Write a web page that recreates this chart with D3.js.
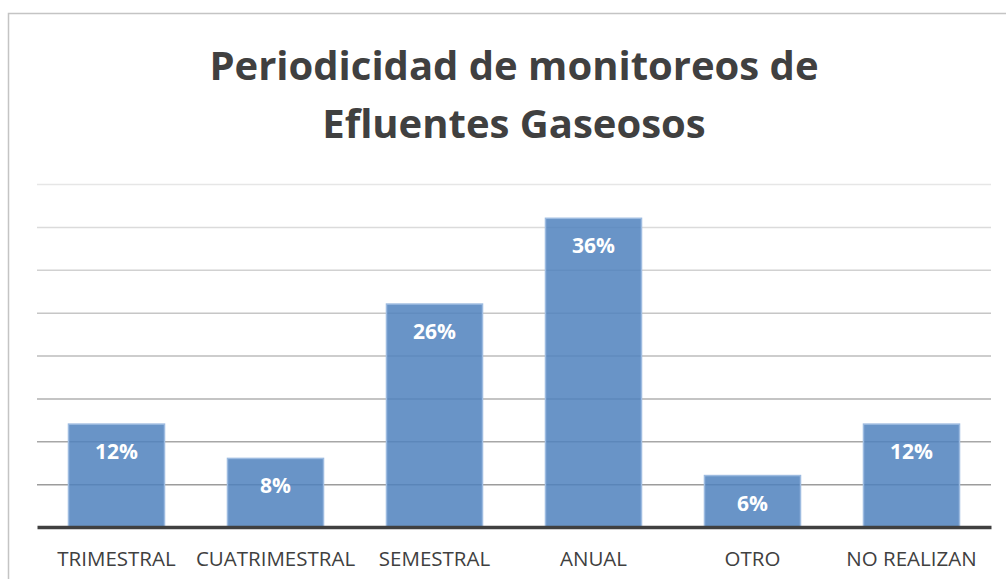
<!DOCTYPE html>
<html lang="es">
<head>
<meta charset="utf-8">
<title>Periodicidad de monitoreos de Efluentes Gaseosos</title>
<script src="https://d3js.org/d3.v7.min.js"></script>
<style>
  html, body { margin: 0; padding: 0; background: #fff; }
  svg { display: block; }
  .title { font-family: "Open Sans", sans-serif; font-weight: 700; fill: #404040; }
  .cat { font-family: "Open Sans", sans-serif; fill: #404040; }
  .lbl { font-family: "Open Sans", sans-serif; font-weight: 700; fill: #fff; }
</style>
</head>
<body>
<div id="chart"></div>
<script>
  // data
  const categories = ["TRIMESTRAL", "CUATRIMESTRAL", "SEMESTRAL", "ANUAL", "OTRO", "NO REALIZAN"];
  const values = [12, 8, 26, 36, 6, 12];
  const gridTicks = [5, 10, 15, 20, 25, 30, 35, 40];
  const titleLines = ["Periodicidad de monitoreos de", "Efluentes Gaseosos"];

  const W = 1006, H = 579;
  const margin = {top: 184, right: 15, bottom: 52, left: 37};

  const svg = d3.select("#chart").append("svg")
      .attr("width", W)
      .attr("height", H);

  // outer chart frame (runs off right/bottom edge)
  svg.append("rect")
      .attr("x", 8.5).attr("y", 13.5)
      .attr("width", W + 20).attr("height", H + 20)
      .attr("fill", "none")
      .attr("stroke", "#c4c4c4")
      .attr("stroke-width", 1.5);

  const x = d3.scaleBand()
      .domain(categories)
      .range([margin.left, W - margin.right])
      .paddingInner(0.396)
      .paddingOuter(0.198);

  const y = d3.scaleLinear()
      .domain([0, 40])
      .range([H - margin.bottom, margin.top]);

  // gridlines, lighter towards the top
  const gridColor = d3.scaleLinear()
      .domain([5, 40])
      .range(["#9c9c9c", "#e6e6e6"]);

  const grid = svg.append("g")
      .attr("transform", "translate(" + margin.left + ",0)")
      .call(d3.axisLeft(y)
          .tickValues(gridTicks)
          .tickSize(-(W - margin.right - margin.left))
          .tickFormat(""));
  grid.select(".domain").remove();
  grid.selectAll(".tick line")
      .attr("stroke", d => gridColor(d))
      .attr("stroke-width", 1.5);

  // bars
  svg.append("g").selectAll("rect")
      .data(values)
      .join("rect")
      .attr("x", (d, i) => x(categories[i]))
      .attr("y", d => y(d))
      .attr("width", x.bandwidth())
      .attr("height", d => y(0) - y(d))
      .attr("fill", "#4f81bd")
      .attr("fill-opacity", 0.85)
      .attr("stroke", "#9dbbe0")
      .attr("stroke-width", 1.5);

  // value labels
  svg.append("g").selectAll("text")
      .data(values)
      .join("text")
      .attr("class", "lbl")
      .attr("x", (d, i) => x(categories[i]) + x.bandwidth() / 2)
      .attr("y", d => y(d) + 35)
      .attr("text-anchor", "middle")
      .style("font-size", "21px")
      .text(d => d + "%");

  // baseline
  const xAxis = svg.append("g")
      .attr("transform", "translate(0," + y(0) + ")")
      .call(d3.axisBottom(x).tickSize(0).tickPadding(0));
  xAxis.select(".domain")
      .attr("stroke", "#404040")
      .attr("stroke-width", 3.5);
  xAxis.selectAll(".tick text")
      .attr("class", "cat")
      .attr("dy", 0)
      .attr("y", 39)
      .style("font-size", "20.5px")
      .attr("fill", null);
  xAxis.attr("font-family", null).attr("font-size", null);

  // title
  svg.append("g").selectAll("text")
      .data(titleLines)
      .join("text")
      .attr("class", "title")
      .attr("x", 514)
      .attr("y", (d, i) => 80 + i * 58)
      .attr("text-anchor", "middle")
      .style("font-size", "40px")
      .text(d => d);
</script>
</body>
</html>
